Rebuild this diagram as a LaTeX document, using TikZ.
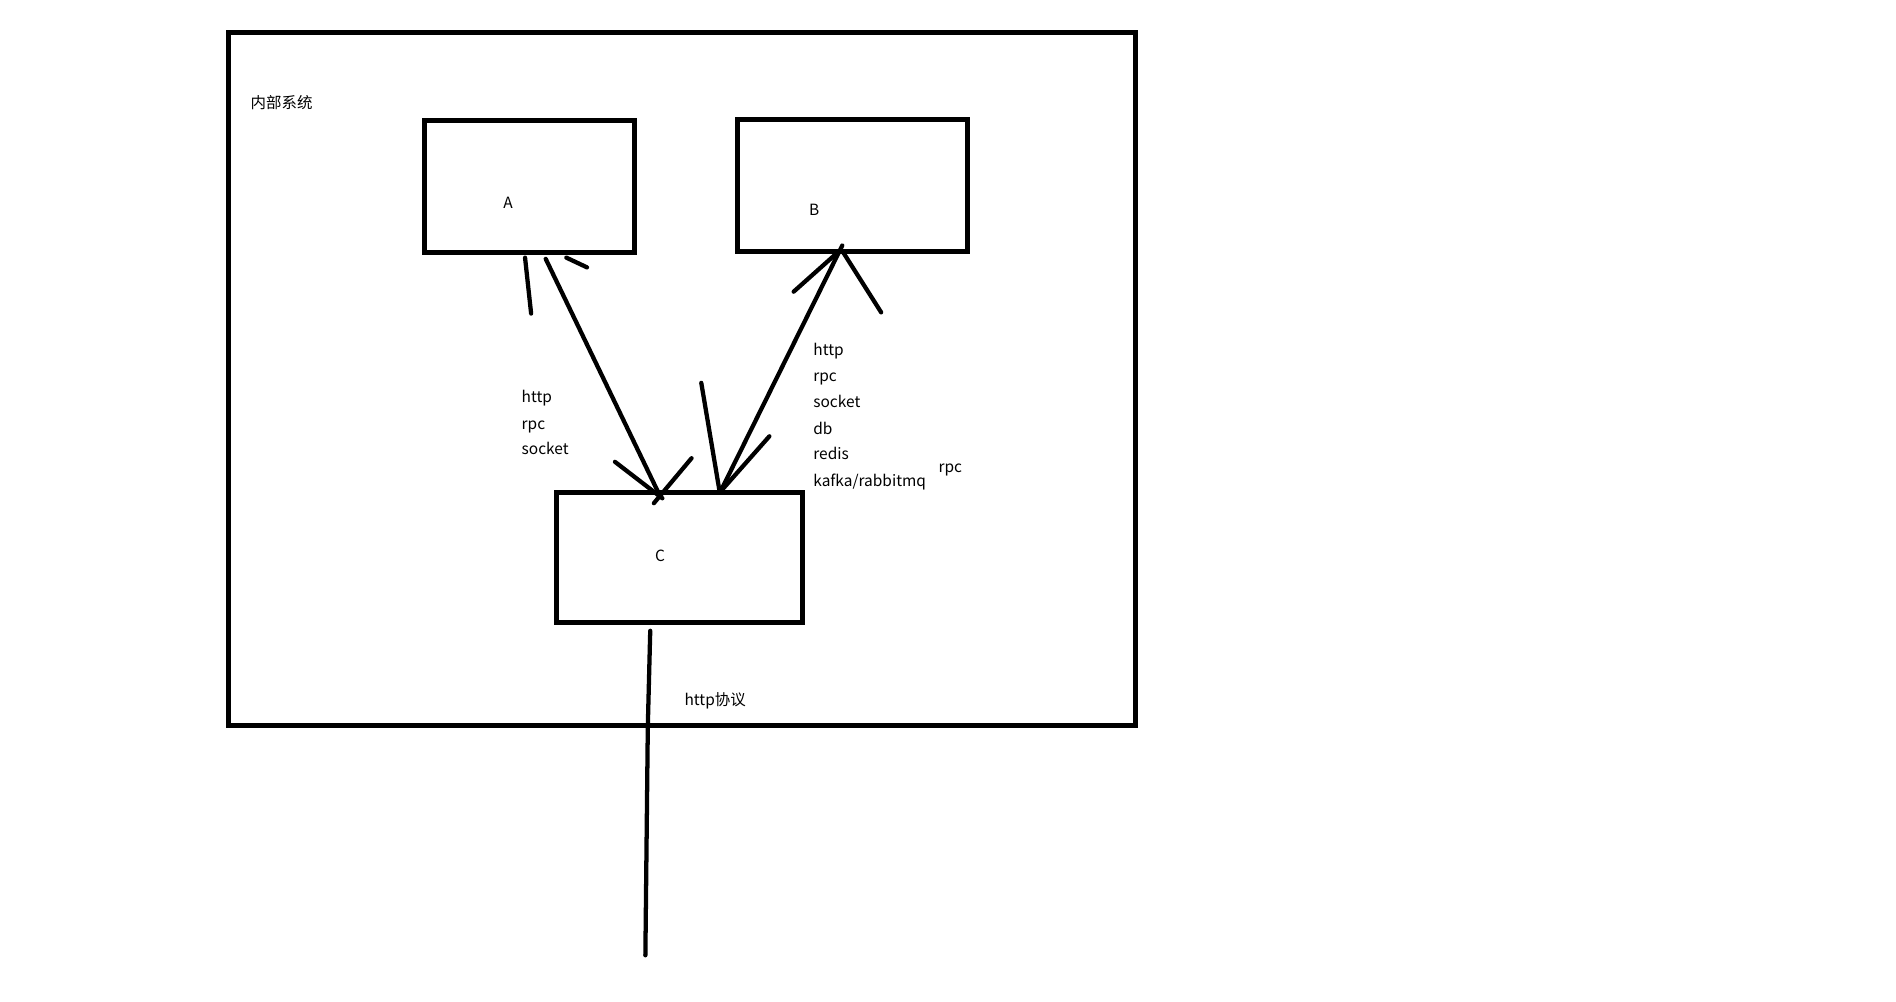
\documentclass[tikz,border=0pt]{standalone}
\usepackage{fontspec}
\setmainfont{Noto Sans CJK SC}
\begin{document}
\begin{tikzpicture}[x=0.9115pt,y=-0.9115pt,
  boxline/.style={draw=black,line width=3.6pt,fill=none,outer sep=0pt,inner sep=0pt,anchor=north west},
  conn/.style={line width=3.2pt,line cap=round,black},
  lbl/.style={font=\fontsize{11.6pt}{14pt}\selectfont,inner sep=0pt,anchor=west,text=black,
    text height=1.6ex,text depth=0.2ex}]
\useasboundingbox[fill=white] (0,0) rectangle (1560,824.4);
% boxes
\node[boxline,minimum width=746*0.9115pt,minimum height=570*0.9115pt] (outer) at (188,27) {};
\node[boxline,minimum width=173*0.9115pt,minimum height=109*0.9115pt] (A) at (349,99) {};
\node[boxline,minimum width=189*0.9115pt,minimum height=109*0.9115pt] (B) at (607,98) {};
\node[boxline,minimum width=202*0.9115pt,minimum height=107*0.9115pt] (C) at (458,405) {};
% box labels
\node[lbl,anchor=center] (la) at (418,167) {A};
\node[lbl,anchor=center] (lb) at (670,173) {B};
\node[lbl,anchor=center] (lc) at (543,458) {C};
\node[lbl] (sys) at (206,85) {内部系统};
% connector end points
\coordinate (a1) at (449,213);
\coordinate (c1) at (543,408);
\coordinate (b1) at (693,202);
\coordinate (c2) at (593,404);
\coordinate (c3) at (535,519);
\coordinate (cx) at (533,598);
\coordinate (out) at (531,786);
% A <-> C
\draw[conn] (a1) -- (c1);
\coordinate (ha1) at (432,212); \coordinate (ha2) at (437,258);
\coordinate (ha3) at (466,212); \coordinate (ha4) at (483,220);
\draw[conn] (ha1) -- (ha2);
\draw[conn] (ha3) -- (ha4);
\coordinate (hc1) at (506,380); \coordinate (hc2) at (545,410);
\coordinate (hc3) at (569,377); \coordinate (hc4) at (538,414);
\draw[conn] (hc1) -- (hc2);
\draw[conn] (hc3) -- (hc4);
% B <-> C
\draw[conn] (b1) -- (c2);
\coordinate (hb1) at (653,240); \coordinate (hb2) at (690,207);
\coordinate (hb3) at (694,208); \coordinate (hb4) at (725,257);
\draw[conn] (hb1) -- (hb2);
\draw[conn] (hb3) -- (hb4);
\coordinate (hd1) at (577,315); \coordinate (hd2) at (592,404);
\coordinate (hd3) at (633,359); \coordinate (hd4) at (595,402);
\draw[conn] (hd1) -- (hd2);
\draw[conn] (hd3) -- (hd4);
% C to outside
\draw[conn] (c3) -- (cx) -- (out);
% protocol labels
\node[lbl] (l1) at (429,327) {http};
\node[lbl] (l2) at (429,349) {rpc};
\node[lbl] (l3) at (429,370) {socket};
\node[lbl] (r1) at (669,288) {http};
\node[lbl] (r2) at (669,310) {rpc};
\node[lbl] (r3) at (669,331) {socket};
\node[lbl] (r4) at (669,353) {db};
\node[lbl] (r5) at (669,374) {redis};
\node[lbl] (r6) at (669,396) {kafka/rabbitmq};
\node[lbl] (r7) at (772,385) {rpc};
\node[lbl] (hp) at (563,576) {http协议};
\end{tikzpicture}
\end{document}
